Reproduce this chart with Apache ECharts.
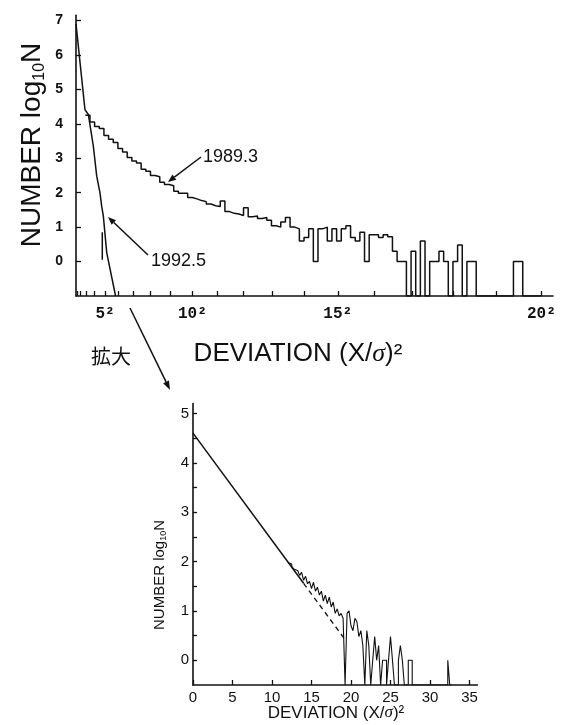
<!DOCTYPE html>
<html><head><meta charset="utf-8">
<script src="https://cdn.jsdelivr.net/npm/echarts@6/dist/echarts.min.js"></script>
<style>html,body{margin:0;padding:0;background:#fff}#c{width:562px;height:725px}</style>
</head><body><div id="c"></div>
<script>
// ---------- Top panel data: deviation (X/sigma)^2, histogram bins of width 4 ----------
const topBinWidth = 4;
const topBinStart = 8;          // first two bins coincide with the 1992.5 line
const hist1989 = [
  4.25, 4.05, 3.92, 3.86, 3.66, 3.55, 3.46, 3.28,
  3.18, 3.02, 2.92, 2.86, 2.68, 2.62, 2.50, 2.46, 2.30, 2.24,
  2.20, 2.04, 1.98, 1.98, 1.86, 1.82, 1.77, 1.74, 1.67, 1.62,
  1.60, 1.76, 1.45, 1.40, 1.38, 1.34, 1.56, 1.30, 1.32, 1.25,
  1.28, 1.20, 1.04, 1.00, 1.15, 1.28, 1.00, 0.95, 0.60, 0.70,
  0.95, 0, 0.95, 1.00, 0.60, 0.95, 0.60, 0.95, 1.04, 0.70,
  0.60, 0.85, 0, 0.78, 0.78, 0.70, 0.78, 0.72, 0.30, 0,
  0, null, 0.30, null, 0.60, null, 0, 0, 0.30, 0,
  null, 0, 0.48, null, 0, 0, null, null, null, null,
  null, null, null, null, 0, 0, null, null, null, null
];
const curve1992U = [0, 7.7, 10.6, 14.9, 17.8, 20.6, 22.1, 23.5, 26.4, 34.0];
const curve1992V = [6.9, 4.41, 4.27, 3.35, 2.48, 2.0, 1.6, 1.32, 0.26, -1];
const tail1992U = [22.6, 22.6];
const tail1992V = [0.85, 0.05];
const topXTickValues = [1,4,9,16,25,36,49,64,81,100,121,144,169,196,225,256,289,324,361,400];
const topXLabelValues = [25, 100, 225, 400];
const topXLabelText = ['5²', '10²', '15²', '20²'];
const topYLabelValues = [0,1,2,3,4,5,6,7];

// ---------- Bottom panel data (enlarged): bins of width 0.25 starting at 12 ----------
const zoomBinStart = 12;
const zoomBinWidth = 0.25;
const histZoom = [
  1.98, 1.95, 1.90, 1.85, 1.82, 1.80, 1.72, 1.78,
  1.62, 1.70, 1.55, 1.60, 1.45, 1.58, 1.40, 1.48,
  1.32, 1.40, 1.20, 1.32, 1.15, 1.28, 1.08, 1.18,
  0.95, 1.04, 0.90, 0.95, 0.85, null, 0.95, 1.00,
  0.70, 0.60, 0.85, 0.78, 0.48, 0.60, 0.30, null,
  0.60, 0.30, null, 0, 0.48, 0, 0.30, null,
  0, 0, null, 0, 0.48, 0, null, null,
  0, 0.30, 0, null, null, 0, 0, null,
  null, null, null, null, null, null, null, null,
  null, null, null, null, null, null, null, null,
  null, 0, null
];
const fitSolidU = [0, 14];
const fitSolidV = [4.6, 1.56];
const fitDashU = [14, 19.2];
const fitDashV = [1.56, 0.43];
const zoomXLabelValues = [0,5,10,15,20,25,30,35];
const zoomYLabelValues = [0,1,2,3,4,5];
const zoomYTickValues = [0,0.5,1,1.5,2,2.5,3,3.5,4,4.5,5];

// ---------- helpers ----------
function stepPoints(start, width, vals, base) {
  const pts = [];
  vals.forEach((v, i) => {
    const y = (v === null) ? base : v;
    pts.push([start + i * width, y], [start + (i + 1) * width, y]);
  });
  return pts;
}
function zip(a, b) { return a.map((x, i) => [x, b[i]]); }

const chart = echarts.init(document.getElementById('c'), null, {renderer: 'canvas'});
const black = '#111';
const lineBase = {type: 'line', showSymbol: false, symbol: 'none', silent: true, animation: false,
  lineStyle: {color: black, width: 1.5}};

const axisCommon = {
  axisLine: {show: true, onZero: false, lineStyle: {color: black, width: 1.6}},
  splitLine: {show: false},
  axisTick: {show: true, inside: true, length: 5, lineStyle: {color: black, width: 1.3}}
};

chart.setOption({
  backgroundColor: '#fff',
  animation: false,
  grid: [
    {left: 76, top: 15.3, width: 477, height: 280.7, outerBoundsMode: 'none'},
    {left: 193, top: 403.5, width: 284.4, height: 281.5, outerBoundsMode: 'none'}
  ],
  xAxis: [
    Object.assign({}, axisCommon, {
      gridIndex: 0, type: 'value', min: 0, max: 410,
      axisTick: Object.assign({}, axisCommon.axisTick, {customValues: topXTickValues}),
      axisLabel: {customValues: topXLabelValues, margin: 10,
        formatter: v => topXLabelText[topXLabelValues.indexOf(v)],
        fontFamily: 'Liberation Mono', fontWeight: 'bold', fontSize: 16, color: black}
    }),
    Object.assign({}, axisCommon, {
      gridIndex: 1, type: 'value', min: 0, max: 36,
      axisTick: Object.assign({}, axisCommon.axisTick, {customValues: zoomXLabelValues}),
      axisLabel: {customValues: zoomXLabelValues, margin: 5,
        fontFamily: 'Liberation Sans', fontSize: 15, color: black}
    })
  ],
  yAxis: [
    Object.assign({}, axisCommon, {
      gridIndex: 0, type: 'value', min: -1, max: 7.15,
      axisTick: Object.assign({}, axisCommon.axisTick, {customValues: topYLabelValues}),
      axisLabel: {customValues: topYLabelValues, margin: 13,
        fontFamily: 'Liberation Sans', fontWeight: 'bold', fontSize: 14, color: black}
    }),
    Object.assign({}, axisCommon, {
      gridIndex: 1, type: 'value', min: -0.5, max: 5.2,
      axisTick: Object.assign({}, axisCommon.axisTick, {customValues: zoomYTickValues, length: 4}),
      axisLabel: {customValues: zoomYLabelValues, margin: 4,
        fontFamily: 'Liberation Sans', fontSize: 15, color: black}
    })
  ],
  series: [
    Object.assign({}, lineBase, {name: '1989.3', xAxisIndex: 0, yAxisIndex: 0,
      data: stepPoints(topBinStart, topBinWidth, hist1989, -1)}),
    Object.assign({}, lineBase, {name: '1992.5', xAxisIndex: 0, yAxisIndex: 0,
      data: zip(curve1992U, curve1992V)}),
    Object.assign({}, lineBase, {name: '1992.5 tail', xAxisIndex: 0, yAxisIndex: 0,
      data: zip(tail1992U, tail1992V)}),
    Object.assign({}, lineBase, {name: 'zoom hist', xAxisIndex: 1, yAxisIndex: 1,
      lineStyle: {color: black, width: 1.1},
      data: stepPoints(zoomBinStart, zoomBinWidth, histZoom, -0.5)}),
    Object.assign({}, lineBase, {name: 'fit', xAxisIndex: 1, yAxisIndex: 1,
      data: zip(fitSolidU, fitSolidV)}),
    Object.assign({}, lineBase, {name: 'fit dashed', xAxisIndex: 1, yAxisIndex: 1,
      lineStyle: {color: black, width: 1.3, type: [5, 4]},
      data: zip(fitDashU, fitDashV)})
  ]
});

// ---------- annotations ----------
function arrow(x1, y1, x2, y2, head) {
  const a = Math.atan2(y2 - y1, x2 - x1);
  const h = head || 8, w = 3.2;
  const bx = x2 - h * Math.cos(a), by = y2 - h * Math.sin(a);
  const px = -Math.sin(a) * w, py = Math.cos(a) * w;
  return [
    {type: 'line', shape: {x1: x1, y1: y1, x2: bx, y2: by}, style: {stroke: black, lineWidth: 1.5}, silent: true},
    {type: 'polygon', shape: {points: [[x2, y2], [bx + px, by + py], [bx - px, by - py]]},
      style: {fill: black}, silent: true}
  ];
}
const graphics = [];
graphics.push({type: 'text', x: 203, y: 157, silent: true,
  style: {text: '1989.3', font: '18px "Liberation Sans"', fill: black, verticalAlign: 'middle', align: 'left'}});
graphics.push(...arrow(201, 157, 168, 182));
graphics.push({type: 'text', x: 151, y: 261, silent: true,
  style: {text: '1992.5', font: '18px "Liberation Sans"', fill: black, verticalAlign: 'middle', align: 'left'}});
graphics.push(...arrow(148, 255, 108, 217));
// y-axis title top
graphics.push({type: 'text', x: 32, y: 145, rotation: Math.PI / 2, silent: true,
  style: {text: 'NUMBER log{s|10}N', align: 'center', verticalAlign: 'middle', fill: black,
    fontFamily: 'Liberation Sans', fontSize: 28, lineHeight: 32,
    rich: {s: {fontFamily: 'Liberation Sans', fontSize: 16, lineHeight: 32, verticalAlign: 'bottom', fill: black}}}});
// x-axis title top
graphics.push({type: 'text', x: 298, y: 354, silent: true,
  style: {text: 'DEVIATION (X/{i|σ})²', align: 'center', verticalAlign: 'middle', fill: black,
    fontFamily: 'Liberation Sans', fontSize: 26,
    rich: {i: {fontFamily: 'Liberation Serif', fontStyle: 'italic', fontSize: 26, fill: black}}}});
graphics.push({type: 'text', x: 111, y: 356, silent: true,
  style: {text: '拡大', align: 'center', verticalAlign: 'middle', fill: black,
    font: '20px "Noto Sans CJK JP"'}});
graphics.push(...arrow(130, 308, 170, 390, 9));
// bottom titles
graphics.push({type: 'text', x: 160, y: 575, rotation: Math.PI / 2, silent: true,
  style: {text: 'NUMBER log{s|10}N', align: 'center', verticalAlign: 'middle', fill: black,
    fontFamily: 'Liberation Sans', fontSize: 15, lineHeight: 17,
    rich: {s: {fontFamily: 'Liberation Sans', fontSize: 9, lineHeight: 17, verticalAlign: 'bottom', fill: black}}}});
graphics.push({type: 'text', x: 336, y: 713, silent: true,
  style: {text: 'DEVIATION (X/{i|σ})²', align: 'center', verticalAlign: 'middle', fill: black,
    fontFamily: 'Liberation Sans', fontSize: 17,
    rich: {i: {fontFamily: 'Liberation Serif', fontStyle: 'italic', fontSize: 17, fill: black}}}});
chart.setOption({graphic: graphics});
</script>
</body></html>
